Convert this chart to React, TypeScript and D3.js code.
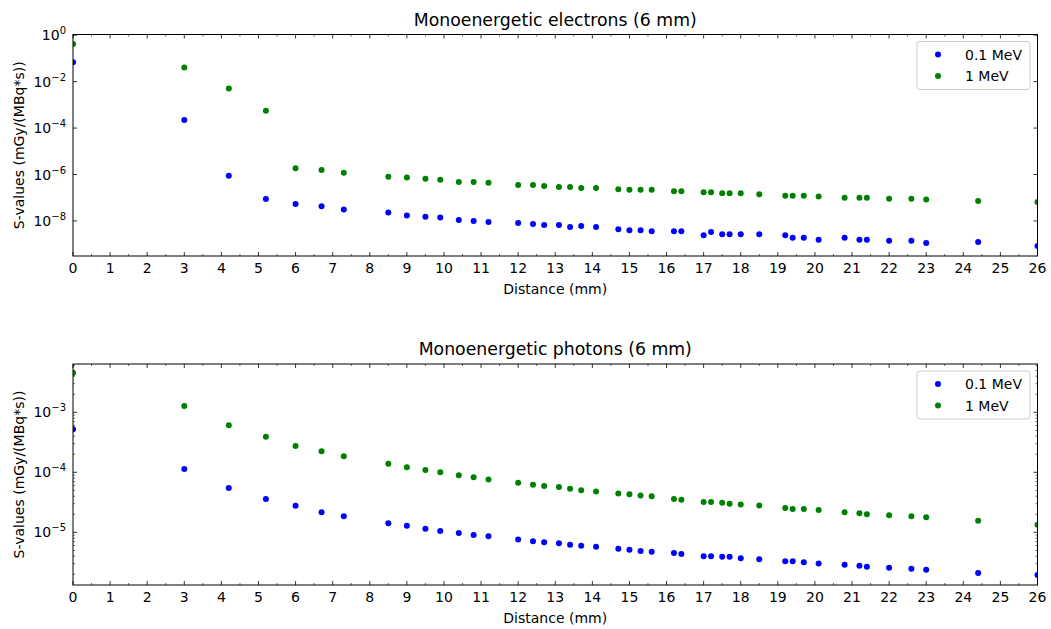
import React from "react";
import * as d3 from "d3";

// distance of each target sphere (mm)
const distances = [
  0, 3, 4.2, 5.2, 6, 6.7, 7.3, 8.5, 9, 9.5, 9.9, 10.4, 10.8, 11.2, 12, 12.4, 12.7, 13.1, 13.4, 13.7,
  14.1, 14.7, 15, 15.3, 15.6, 16.2, 16.4, 17, 17.2, 17.5, 17.7, 18, 18.5, 19.2, 19.4, 19.7, 20.1,
  20.8, 21.2, 21.4, 22, 22.6, 23, 24.4, 26,
];

const electrons01 = [
  0.069, 2.2e-4, 8.9e-7, 8.9e-8, 5.4e-8, 4.3e-8, 3.1e-8, 2.3e-8, 1.7e-8, 1.5e-8, 1.4e-8, 1.1e-8,
  1.0e-8, 9.1e-9, 8.2e-9, 7.4e-9, 6.7e-9, 6.7e-9, 5.5e-9, 6.1e-9, 5.5e-9, 4.4e-9, 4.0e-9, 4.0e-9,
  3.6e-9, 3.6e-9, 3.6e-9, 2.4e-9, 3.3e-9, 2.7e-9, 2.7e-9, 2.7e-9, 2.7e-9, 2.4e-9, 1.9e-9, 1.9e-9,
  1.56e-9, 1.9e-9, 1.56e-9, 1.56e-9, 1.41e-9, 1.41e-9, 1.12e-9, 1.24e-9, 8.3e-10,
];
const electrons1 = [
  0.42, 0.041, 0.005, 5.6e-4, 1.85e-6, 1.55e-6, 1.2e-6, 8.1e-7, 7.4e-7, 6.5e-7, 5.9e-7, 4.8e-7,
  4.8e-7, 4.4e-7, 3.5e-7, 3.5e-7, 3.2e-7, 2.9e-7, 2.9e-7, 2.6e-7, 2.6e-7, 2.3e-7, 2.2e-7, 2.2e-7,
  2.2e-7, 1.9e-7, 1.9e-7, 1.74e-7, 1.74e-7, 1.56e-7, 1.56e-7, 1.56e-7, 1.41e-7, 1.23e-7, 1.23e-7,
  1.23e-7, 1.12e-7, 1.0e-7, 1.0e-7, 1.0e-7, 9.1e-8, 9.1e-8, 8.3e-8, 7.3e-8, 6.6e-8,
];
const photons01 = [
  5.2e-4, 1.13e-4, 5.5e-5, 3.6e-5, 2.77e-5, 2.15e-5, 1.85e-5, 1.41e-5, 1.29e-5, 1.15e-5, 1.05e-5,
  9.7e-6, 9.0e-6, 8.6e-6, 7.6e-6, 7.1e-6, 6.8e-6, 6.6e-6, 6.2e-6, 6.0e-6, 5.75e-6, 5.3e-6, 5.1e-6,
  4.9e-6, 4.75e-6, 4.5e-6, 4.35e-6, 4.0e-6, 4.0e-6, 3.9e-6, 3.9e-6, 3.7e-6, 3.55e-6, 3.3e-6, 3.3e-6,
  3.16e-6, 3.03e-6, 2.88e-6, 2.77e-6, 2.67e-6, 2.57e-6, 2.47e-6, 2.38e-6, 2.1e-6, 1.95e-6,
];
const photons1 = [
  4.5e-3, 1.27e-3, 6.1e-4, 3.9e-4, 2.75e-4, 2.24e-4, 1.85e-4, 1.39e-4, 1.22e-4, 1.09e-4, 1.0e-4,
  8.9e-5, 8.3e-5, 7.6e-5, 6.7e-5, 6.2e-5, 5.9e-5, 5.7e-5, 5.3e-5, 5.0e-5, 4.8e-5, 4.45e-5, 4.3e-5,
  4.1e-5, 4.0e-5, 3.6e-5, 3.5e-5, 3.2e-5, 3.2e-5, 3.1e-5, 3.0e-5, 2.9e-5, 2.8e-5, 2.54e-5, 2.45e-5,
  2.45e-5, 2.35e-5, 2.15e-5, 2.07e-5, 2.0e-5, 1.92e-5, 1.85e-5, 1.78e-5, 1.56e-5, 1.34e-5,
];

const seriesLabels = ["0.1 MeV", "1 MeV"];
const seriesColors = ["#0000ff", "#008000"];

const FONT = "DejaVu Sans, sans-serif";
const W = 1051;
const H = 629;

type PanelProps = {
  id: string;
  title: string;
  top: number;
  bottom: number;
  yDomain: [number, number];
  majorExps: number[];
  minor: boolean;
  series: number[][];
};

function Panel({ id, title, top, bottom, yDomain, majorExps, minor, series }: PanelProps) {
  const left = 73;
  const right = 1037.5;
  const x = d3.scaleLinear().domain([0, 26]).range([left, right]);
  const y = d3.scaleLog().domain(yDomain).range([bottom, top]);

  const xMajor = d3.range(0, 27, 1);
  const xMinor = d3.range(0.5, 26, 1);

  const minorTicks: number[] = [];
  if (minor) {
    const lo = Math.floor(Math.log10(yDomain[0]));
    const hi = Math.ceil(Math.log10(yDomain[1]));
    for (let e = lo; e <= hi; e++) {
      for (let m = 2; m <= 9; m++) {
        const v = m * Math.pow(10, e);
        if (v >= yDomain[0] && v <= yDomain[1]) minorTicks.push(v);
      }
    }
  }

  const clipId = `clip-${id}`;
  const midY = (top + bottom) / 2;

  return (
    <g>
      <defs>
        <clipPath id={clipId}>
          <rect x={left} y={top} width={right - left} height={bottom - top} />
        </clipPath>
      </defs>

      <text x={(left + right) / 2} y={top - 9} textAnchor="middle" fontSize={17.3} fontFamily={FONT} fill="#000">
        {title}
      </text>

      <g clipPath={`url(#${clipId})`}>
        {series.map((vals, si) =>
          vals.map((v, i) => (
            <circle key={`${si}-${i}`} cx={x(distances[i])} cy={y(v)} r={3} fill={seriesColors[si]} />
          ))
        )}
      </g>

      {/* x ticks, inward on bottom and top */}
      {xMajor.map((t) => (
        <g key={`xm${t}`}>
          <line x1={x(t)} x2={x(t)} y1={bottom} y2={bottom - 4} stroke="#000" strokeWidth={0.8} />
          <line x1={x(t)} x2={x(t)} y1={top} y2={top + 4} stroke="#000" strokeWidth={0.8} />
          <text x={x(t)} y={bottom + 17} textAnchor="middle" fontSize={14} fontFamily={FONT} fill="#000">
            {t}
          </text>
        </g>
      ))}
      {xMinor.map((t) => (
        <g key={`xn${t}`}>
          <line x1={x(t)} x2={x(t)} y1={bottom} y2={bottom - 2} stroke="#000" strokeWidth={0.6} />
          <line x1={x(t)} x2={x(t)} y1={top} y2={top + 2} stroke="#000" strokeWidth={0.6} />
        </g>
      ))}

      {/* y ticks, inward on left and right */}
      {majorExps.map((e) => {
        const yy = y(Math.pow(10, e));
        return (
          <g key={`ym${e}`}>
            <line x1={left} x2={left + 4} y1={yy} y2={yy} stroke="#000" strokeWidth={0.8} />
            <line x1={right} x2={right - 4} y1={yy} y2={yy} stroke="#000" strokeWidth={0.8} />
            <text x={left - 7} y={yy + 5} textAnchor="end" fontSize={14} fontFamily={FONT} fill="#000">
              10
              <tspan fontSize={10} dy={-6}>
                {e === 0 ? "0" : `\u2212${Math.abs(e)}`}
              </tspan>
            </text>
          </g>
        );
      })}
      {minorTicks.map((v, i) => (
        <g key={`yn${i}`}>
          <line x1={left} x2={left + 2} y1={y(v)} y2={y(v)} stroke="#000" strokeWidth={0.6} />
          <line x1={right} x2={right - 2} y1={y(v)} y2={y(v)} stroke="#000" strokeWidth={0.6} />
        </g>
      ))}

      <rect x={left} y={top} width={right - left} height={bottom - top} fill="none" stroke="#000" strokeWidth={1} />

      <text x={(left + right) / 2} y={bottom + 38} textAnchor="middle" fontSize={14} fontFamily={FONT} fill="#000">
        Distance (mm)
      </text>
      <text
        transform={`translate(24,${midY}) rotate(-90)`}
        textAnchor="middle"
        fontSize={14}
        fontFamily={FONT}
        fill="#000"
      >
        S-values (mGy/(MBq*s))
      </text>

      {/* legend */}
      <g transform={`translate(917,${top + 7})`}>
        <rect x={0} y={0} width={113} height={48} rx={3} fill="#fff" stroke="#ccc" strokeWidth={1} />
        {seriesLabels.map((lab, i) => (
          <g key={lab} transform={`translate(0,${13 + i * 21.5})`}>
            <circle cx={21} cy={0} r={3} fill={seriesColors[i]} />
            <text x={48} y={5} fontSize={14} fontFamily={FONT} fill="#000">
              {lab}
            </text>
          </g>
        ))}
      </g>
    </g>
  );
}

export default function App() {
  return (
    <svg
      width={W}
      height={H}
      style={{ position: "absolute", left: 0, top: 0, background: "#fff" }}
    >
      <Panel
        id="el"
        title="Monoenergetic electrons (6 mm)"
        top={34.5}
        bottom={256}
        yDomain={[Math.pow(10, -9.51), Math.pow(10, 0.03)]}
        majorExps={[0, -2, -4, -6, -8]}
        minor={false}
        series={[electrons01, electrons1]}
      />
      <Panel
        id="ph"
        title="Monoenergetic photons (6 mm)"
        top={364}
        bottom={585}
        yDomain={[Math.pow(10, -5.878), Math.pow(10, -2.195)]}
        majorExps={[-3, -4, -5]}
        minor={true}
        series={[photons01, photons1]}
      />
    </svg>
  );
}
